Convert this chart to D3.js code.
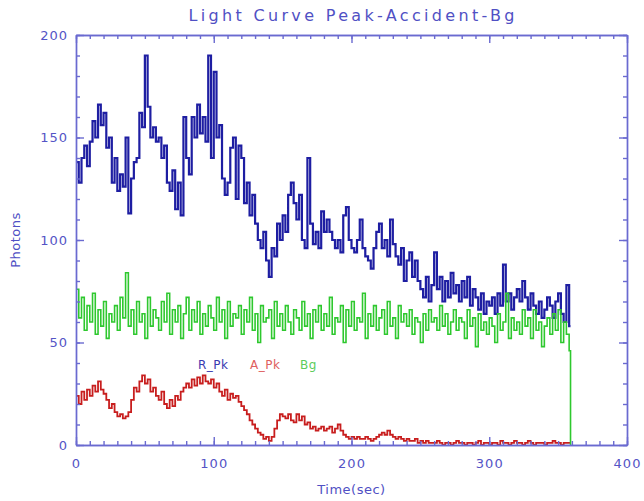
<!DOCTYPE html>
<html>
<head>
<meta charset="utf-8">
<script src="https://cdn.jsdelivr.net/npm/d3@7/dist/d3.min.js"></script>
<style>
  html, body { margin: 0; padding: 0; background: #fff; }
  svg { display: block; }
  .axis text { font-family: "DejaVu Sans", sans-serif; font-size: 13px; fill: #5454c6; letter-spacing: 1px; }
  .axis path, .axis line { stroke: #6a6ad0; stroke-width: 1.4; }
  .label { font-family: "DejaVu Sans", sans-serif; fill: #5050c4; }
</style>
</head>
<body>
<div id="chart"></div>
<script>
// light curve bins, 2 s each
var binWidth = 2;
var tEnd = 359;

var rPk = [
  138, 128, 140, 146, 136, 148, 158, 150, 166, 156,
  162, 145, 150, 128, 140, 124, 132, 126, 150, 113,
  130, 138, 140, 162, 155, 190, 165, 150, 155, 148,
  150, 140, 146, 128, 124, 134, 115, 128, 112, 160,
  140, 132, 160, 150, 166, 152, 160, 148, 190, 140,
  182, 150, 156, 130, 122, 128, 145, 150, 120, 146,
  140, 118, 128, 112, 122, 108, 100, 96, 104, 90,
  82, 96, 92, 108, 100, 112, 104, 122, 128, 118,
  110, 122, 100, 96, 140, 108, 98, 104, 96, 114,
  104, 110, 104, 100, 96, 100, 94, 112, 116, 100,
  96, 94, 100, 110, 96, 92, 90, 86, 96, 104,
  108, 96, 100, 92, 110, 98, 92, 88, 96, 80,
  90, 94, 82, 90, 80, 76, 72, 82, 70, 78,
  94, 76, 82, 70, 80, 72, 84, 74, 78, 70,
  80, 72, 82, 68, 76, 72, 66, 74, 64, 70,
  68, 72, 64, 74, 68, 88, 70, 74, 66, 72,
  76, 70, 80, 72, 66, 74, 68, 64, 70, 62,
  66, 72, 68, 62, 70, 74, 64, 60, 78, 58
];

var aPk = [
  24, 20, 26, 22, 27, 24, 29, 26, 31, 27,
  25, 22, 18, 20, 16, 14, 15, 13, 14, 16,
  22, 28, 26, 31, 34, 30, 32, 26, 28, 24,
  22, 26, 20, 18, 22, 19, 24, 22, 26, 28,
  30, 28, 32, 29, 33, 30, 34, 31, 30, 32,
  28, 30, 26, 24, 27, 22, 25, 23, 24, 21,
  19, 17, 15, 12, 10, 8, 6, 5, 3, 4,
  2, 4, 8, 12, 15, 14, 13, 15, 12, 11,
  15, 12, 14, 10, 11, 8, 9, 7, 8, 9,
  7, 8, 9, 6, 8, 10, 7, 5, 4, 3,
  4, 3, 4, 3, 3, 4, 3, 2, 3, 4,
  5, 6, 5, 7, 5, 4, 3, 4, 3, 2,
  3, 2, 2, 3, 1, 2, 1, 2, 1, 1,
  1, 2, 1, 0, 1, 1, 0, 1, 2, 1,
  1, 0, 1, 1, 0, 1, 2, 0, 1, 1,
  0, 1, 1, 0, 2, 1, 1, 0, 1, 2,
  1, 1, 0, 1, 2, 1, 0, 1, 1, 1,
  0, 1, 1, 2, 1, 1, 0, 1, 1, 1
];

var bg = [
  76, 62, 72, 56, 68, 60, 74, 54, 66, 58,
  70, 52, 64, 60, 68, 56, 72, 62, 84, 58,
  66, 54, 70, 60, 64, 52, 72, 58, 66, 62,
  56, 70, 60, 74, 54, 66, 60, 68, 52, 64,
  72, 56, 66, 60, 70, 54, 64, 58, 68, 62,
  56, 72, 60, 66, 52, 70, 58, 64, 62, 68,
  54, 66, 60, 72, 56, 64, 50, 68, 60, 62,
  66, 52, 70, 58, 64, 56, 68, 60, 54, 66,
  62, 56, 70, 58, 64, 52, 66, 60, 68, 56,
  64, 58, 72, 54, 62, 60, 68, 50, 66, 58,
  70, 56, 62, 60, 74, 52, 64, 58, 68, 56,
  62, 66, 54, 70, 58, 62, 52, 68, 60, 64,
  58, 66, 54, 62, 60, 50, 64, 56, 66, 60,
  62, 56, 68, 58, 64, 54, 60, 66, 56, 62,
  60, 52, 66, 58, 62, 48, 64, 56, 60, 54,
  62, 58, 50, 64, 56, 60, 74, 52, 62, 56,
  60, 54, 66, 58, 62, 52, 66, 56, 60, 48,
  58, 62, 54, 64, 56, 66, 50, 60, 54, 46
];
var bgTail = 0;

var xTicks = [0, 100, 200, 300, 400];
var yTicks = [0, 50, 100, 150, 200];
var xMinor = d3.range(0, 401, 10);
var yMinor = d3.range(0, 201, 10);

var legendNames = ["R_Pk", "A_Pk", "Bg"];
var legendColors = ["#3a3ab0", "#de6060", "#5ccc5c"];

var width = 644, height = 501;
var plotL = 76, plotR = 627, plotT = 35, plotB = 445;

var svg = d3.select("#chart").append("svg")
  .attr("width", width)
  .attr("height", height);

var x = d3.scaleLinear().domain([0, 400]).range([plotL, plotR]);
var y = d3.scaleLinear().domain([0, 200]).range([plotB, plotT]);

function toPoints(vals, tail) {
  var pts = vals.map(function (v, i) { return { t: i * binWidth, v: v }; });
  pts.push({ t: tEnd, v: vals[vals.length - 1] });
  if (tail !== undefined) { pts.push({ t: tEnd, v: tail }); }
  return pts;
}

var line = d3.line()
  .x(function (d) { return x(d.t); })
  .y(function (d) { return y(d.v); })
  .curve(d3.curveStepAfter);

// series: IDL style, peak first then overplots
svg.append("path").datum(toPoints(rPk))
  .attr("d", line).attr("fill", "none")
  .attr("stroke", "#1e1ea2").attr("stroke-width", 2.2);

svg.append("path").datum(toPoints(aPk))
  .attr("d", line).attr("fill", "none")
  .attr("stroke", "#c81e1e").attr("stroke-width", 1.8);

svg.append("path").datum(toPoints(bg, bgTail))
  .attr("d", line).attr("fill", "none")
  .attr("stroke", "#2ec82e").attr("stroke-width", 1.6);

// axes, ticks pointing in on all four sides
svg.append("g").attr("class", "axis")
  .attr("transform", "translate(0," + plotB + ")")
  .call(d3.axisBottom(x).tickValues(xTicks).tickSize(-8).tickSizeOuter(0).tickPadding(14));
svg.append("g").attr("class", "axis")
  .attr("transform", "translate(0," + plotB + ")")
  .call(d3.axisBottom(x).tickValues(xMinor).tickSize(-4).tickSizeOuter(0).tickFormat(""));
svg.append("g").attr("class", "axis")
  .attr("transform", "translate(0," + plotT + ")")
  .call(d3.axisTop(x).tickValues(xTicks).tickSize(-8).tickSizeOuter(0).tickFormat(""));
svg.append("g").attr("class", "axis")
  .attr("transform", "translate(0," + plotT + ")")
  .call(d3.axisTop(x).tickValues(xMinor).tickSize(-4).tickSizeOuter(0).tickFormat(""));

svg.append("g").attr("class", "axis")
  .attr("transform", "translate(" + plotL + ",0)")
  .call(d3.axisLeft(y).tickValues(yTicks).tickSize(-8).tickSizeOuter(0).tickPadding(8));
svg.append("g").attr("class", "axis")
  .attr("transform", "translate(" + plotL + ",0)")
  .call(d3.axisLeft(y).tickValues(yMinor).tickSize(-4).tickSizeOuter(0).tickFormat(""));
svg.append("g").attr("class", "axis")
  .attr("transform", "translate(" + plotR + ",0)")
  .call(d3.axisRight(y).tickValues(yTicks).tickSize(-8).tickSizeOuter(0).tickFormat(""));
svg.append("g").attr("class", "axis")
  .attr("transform", "translate(" + plotR + ",0)")
  .call(d3.axisRight(y).tickValues(yMinor).tickSize(-4).tickSizeOuter(0).tickFormat(""));

// titles
svg.append("text").attr("class", "label")
  .attr("x", (plotL + plotR) / 2).attr("y", 21)
  .attr("text-anchor", "middle")
  .attr("font-size", "16px")
  .attr("textLength", 326).attr("lengthAdjust", "spacing")
  .text("Light Curve Peak-Accident-Bg");

svg.append("text").attr("class", "label")
  .attr("x", (plotL + plotR) / 2).attr("y", 494)
  .attr("text-anchor", "middle")
  .attr("font-size", "13px")
  .attr("letter-spacing", "0.5px")
  .text("Time(sec)");

svg.append("text").attr("class", "label")
  .attr("transform", "translate(20," + ((plotT + plotB) / 2) + ") rotate(-90)")
  .attr("text-anchor", "middle")
  .attr("font-size", "13px")
  .attr("letter-spacing", "0.5px")
  .text("Photons");

// in-plot legend
var legendX = [198, 250, 300];
legendNames.forEach(function (name, i) {
  svg.append("text")
    .attr("x", legendX[i]).attr("y", 369)
    .attr("font-family", "DejaVu Sans, sans-serif")
    .attr("font-size", "12px")
    .attr("letter-spacing", "0.5px")
    .attr("fill", legendColors[i])
    .text(name);
});
</script>
</body>
</html>
